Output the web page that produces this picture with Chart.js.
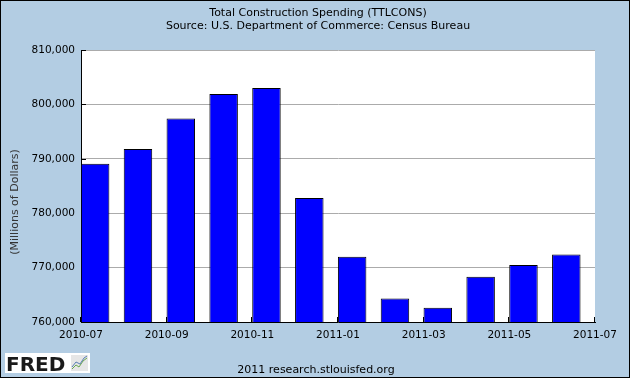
<!DOCTYPE html>
<html><head><meta charset="utf-8">
<script src="https://cdn.jsdelivr.net/npm/chart.js@4.4.1/dist/chart.umd.min.js"></script>
<style>html,body{margin:0;padding:0;background:#B3CDE3;}canvas{display:block}</style>
</head><body>
<canvas id="c" width="630" height="378"></canvas>
<script>
// ---- data ----
const months = ['2010-07','2010-08','2010-09','2010-10','2010-11','2010-12','2011-01','2011-02','2011-03','2011-04','2011-05','2011-06'];
const spending = [789100, 791800, 797400, 801900, 803000, 782800, 772000, 764300, 762600, 768300, 770500, 772400];
const xTickLabels = ['2010-07','2010-09','2010-11','2011-01','2011-03','2011-05','2011-07'];
const yMin = 760000, yMax = 810000, yStep = 10000;
const titleLines = ['Total Construction Spending (TTLCONS)', 'Source: U.S. Department of Commerce: Census Bureau'];
const yAxisTitle = '(Millions of Dollars)';
const footerText = '2011 research.stlouisfed.org';
const logoText = 'FRED';

// ---- style ----
const BG = '#B3CDE3';
const FONT = 'DejaVu Sans';
const BAR_OFFSET = 0.33; // bars start at month start
Chart.defaults.font.family = FONT;
Chart.defaults.font.size = 10.5;
Chart.defaults.color = '#000';

const decor = {
  id: 'decor',
  beforeDraw(chart) {
    const {ctx, chartArea: a} = chart;
    ctx.save();
    ctx.fillStyle = BG;
    ctx.fillRect(0, 0, chart.width, chart.height);
    ctx.fillStyle = '#fff';
    ctx.fillRect(a.left, a.top, a.right - a.left, a.bottom - a.top);
    ctx.restore();
  },
  beforeDatasetsDraw(chart) {
    const {ctx, chartArea: a, scales} = chart;
    ctx.save();
    ctx.strokeStyle = '#000';
    ctx.lineWidth = 1;
    ctx.beginPath();
    scales.y.ticks.forEach(t => {
      const y = Math.round(scales.y.getPixelForValue(t.value)) + 0.5;
      ctx.moveTo(a.left, y); ctx.lineTo(a.left + 5, y);
    });
    scales.x.ticks.forEach(t => {
      const x = Math.round(scales.x.getPixelForValue(t.value)) - 0.5;
      ctx.moveTo(x, a.bottom); ctx.lineTo(x, a.bottom - 5);
    });
    ctx.stroke();
    ctx.restore();
  },
  afterDraw(chart) {
    const {ctx} = chart;
    ctx.save();
    // titles
    ctx.fillStyle = '#000';
    ctx.font = '11px "' + FONT + '"';
    ctx.textAlign = 'center';
    ctx.textBaseline = 'middle';
    titleLines.forEach((t, i) => ctx.fillText(t, 318, 13.5 + i * 13));
    // footer
    ctx.fillText(footerText, 316, 370);
    // y axis title
    ctx.save();
    ctx.translate(15, 202);
    ctx.rotate(-Math.PI / 2);
    ctx.fillStyle = '#333';
    ctx.fillText(yAxisTitle, 0, 0);
    ctx.restore();
    // FRED logo
    ctx.fillStyle = '#fff';
    ctx.fillRect(5, 353, 85, 20);
    ctx.fillStyle = '#1a1a1a';
    ctx.font = 'bold 20px "' + FONT + '"';
    ctx.textAlign = 'left';
    ctx.textBaseline = 'alphabetic';
    ctx.fillText(logoText, 6, 371);
    ctx.fillStyle = '#e6e6e6';
    ctx.fillRect(71, 355, 17, 16);
    ctx.lineWidth = 1;
    ctx.strokeStyle = '#6aa84f';
    ctx.beginPath(); ctx.moveTo(72, 369); ctx.lineTo(76, 365); ctx.lineTo(79, 367); ctx.lineTo(83, 361); ctx.lineTo(87, 358); ctx.stroke();
    ctx.strokeStyle = '#5b7fb5';
    ctx.beginPath(); ctx.moveTo(72, 367); ctx.lineTo(76, 362); ctx.lineTo(80, 364); ctx.lineTo(84, 358); ctx.lineTo(87, 356); ctx.stroke();
    // outer border
    ctx.strokeStyle = '#000';
    ctx.lineWidth = 1;
    ctx.strokeRect(0.5, 0.5, chart.width - 1, chart.height - 1);
    ctx.restore();
  }
};

new Chart(document.getElementById('c'), {
  type: 'bar',
  data: {
    labels: months,
    datasets: [{
      label: 'TTLCONS',
      data: spending.map((v, i) => ({x: i + BAR_OFFSET, y: v})),
      backgroundColor: '#0000FF',
      borderColor: '#000',
      borderWidth: 1,
      borderSkipped: 'start',
      barPercentage: 0.665,
      categoryPercentage: 1
    }]
  },
  options: {
    responsive: false,
    animation: false,
    devicePixelRatio: 1,
    layout: {padding: {left: 0, right: 35, top: 50, bottom: 0}},
    plugins: {
      legend: {display: false},
      tooltip: {enabled: false},
      title: {display: false}
    },
    scales: {
      x: {
        type: 'linear',
        offset: false,
        min: 0, max: 12,
        grid: {display: false, drawTicks: false, offset: false},
        border: {display: true, color: '#000', width: 1},
        ticks: {
          stepSize: 2, autoSkip: false, maxRotation: 0, padding: 7, color: '#000',
          callback: (v) => xTickLabels[Math.round(v / 2)] ?? ''
        },
        afterFit: (s) => { s.height = 56; }
      },
      y: {
        min: yMin, max: yMax,
        grid: {
          drawTicks: false,
          color: (c) => (c.tick && c.tick.value === yMin) ? 'rgba(0,0,0,0)' : '#ABABAB'
        },
        border: {display: true, color: '#000', width: 1},
        ticks: {
          stepSize: yStep, padding: 6, color: '#000',
          callback: (v) => v.toLocaleString('en-US')
        },
        afterFit: (s) => { s.width = 81; }
      }
    }
  },
  plugins: [decor]
});
</script>
</body></html>
